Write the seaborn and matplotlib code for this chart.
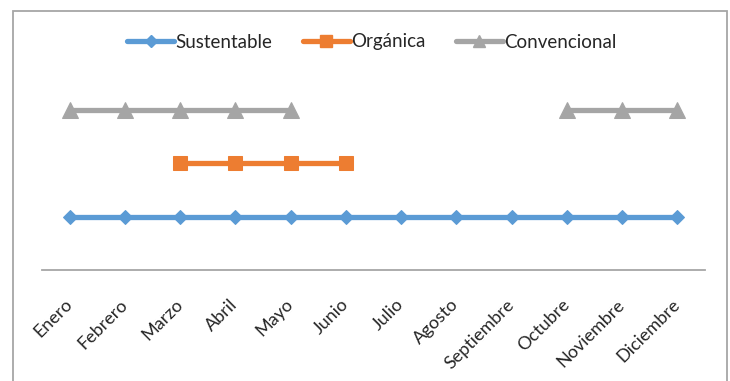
import numpy as np
import pandas as pd
import matplotlib.pyplot as plt
import seaborn as sns
from matplotlib.lines import Line2D
from matplotlib.patches import Rectangle

meses = ['Enero', 'Febrero', 'Marzo', 'Abril', 'Mayo', 'Junio', 'Julio',
         'Agosto', 'Septiembre', 'Octubre', 'Noviembre', 'Diciembre']
sustentable = [1, 1, 1, 1, 1, 1, 1, 1, 1, 1, 1, 1]
organica = [np.nan, np.nan, 2, 2, 2, 2, np.nan, np.nan, np.nan, np.nan, np.nan, np.nan]
convencional = [3, 3, 3, 3, 3, np.nan, np.nan, np.nan, np.nan, 3, 3, 3]

series = ['Sustentable', 'Orgánica', 'Convencional']
colores = {'Sustentable': '#5B9BD5', 'Orgánica': '#ED7D31', 'Convencional': '#A5A5A5'}
marcadores = {'Sustentable': 'D', 'Orgánica': 's', 'Convencional': '^'}
tamanos = {'Sustentable': 7.5, 'Orgánica': 10.5, 'Convencional': 11}

# tabla larga, cortando en tramos donde falta el dato
filas = []
for nombre, vals in zip(series, [sustentable, organica, convencional]):
    tramo = 0
    prev_nan = True
    for i, v in enumerate(vals):
        if np.isnan(v):
            prev_nan = True
            continue
        if prev_nan:
            tramo += 1
        prev_nan = False
        filas.append({'pos': i, 'valor': v, 'serie': nombre, 'tramo': tramo})
df = pd.DataFrame(filas)

sns.set_style('white')
plt.rcParams['font.family'] = ['Lato', 'DejaVu Sans']

fig = plt.figure(figsize=(7.3, 3.81), dpi=100)
ax = fig.add_axes([42 / 730, 1 - 270 / 381, 663 / 730, 214 / 381])

for nombre in series:
    d = df[df['serie'] == nombre]
    sns.lineplot(data=d, x='pos', y='valor', units='tramo', estimator=None,
                 color=colores[nombre], marker=marcadores[nombre],
                 markersize=tamanos[nombre], markeredgecolor=colores[nombre],
                 linewidth=3.8, sort=False, ax=ax, legend=False)

ax.set_xlim(-0.5, 11.5)
ax.set_ylim(0, 4)
ax.set_xticks(range(len(meses)))
ax.set_xticklabels(meses, rotation=45, ha='right', va='center',
                   rotation_mode='anchor', fontsize=13)
ax.tick_params(axis='x', length=0, pad=23)
ax.set_yticks([])
ax.set_xlabel('')
ax.set_ylabel('')
for lado in ['top', 'right', 'left']:
    ax.spines[lado].set_visible(False)
ax.spines['bottom'].set_color('#A6A6A6')
ax.spines['bottom'].set_linewidth(1.3)

handles = [Line2D([0], [0], color=colores[n], marker=marcadores[n],
                  markersize=tamanos[n] * 0.85, markeredgecolor=colores[n],
                  linewidth=3.8) for n in series]
fig.legend(handles, series, loc='center', bbox_to_anchor=(372 / 730, 1 - 42 / 381),
           ncol=3, frameon=False, fontsize=13.5, handlelength=2.5,
           handletextpad=0.1, columnspacing=1.6)

fig.patches.append(Rectangle((13 / 730, -0.1), 714 / 730, 1.1 - 11 / 381,
                             transform=fig.transFigure, fill=False,
                             edgecolor='#A6A6A6', linewidth=1.3))

fig.savefig('out.png', dpi=100)
